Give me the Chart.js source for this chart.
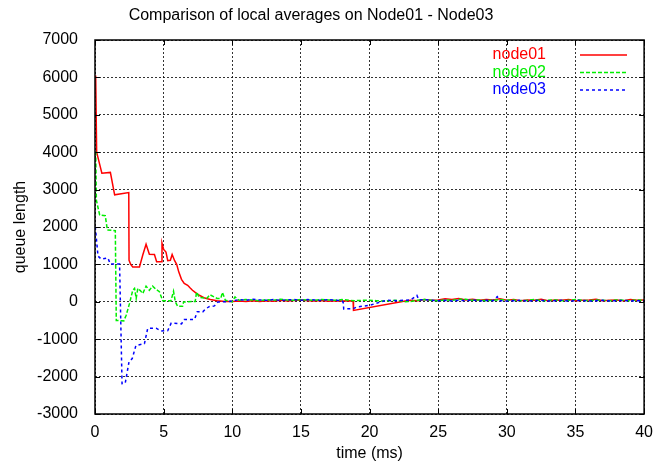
<!DOCTYPE html>
<html>
<head>
<meta charset="utf-8">
<script src="https://cdn.jsdelivr.net/npm/chart.js@4"></script>
<style>
  html, body { margin: 0; padding: 0; background: #fff; }
  canvas { display: block; }
</style>
</head>
<body>
<canvas id="queueChart" width="662" height="464"></canvas>
<script>
// --- Data ---
const chartTitle = 'Comparison of local averages on Node01 - Node03';
const seriesNames = ['node01', 'node02', 'node03'];
const xTitle = 'time (ms)';
const yTitle = 'queue length';

const node01Time = [0.05, 0.12, 0.5, 1.12, 1.43, 2.46, 2.48, 2.6, 2.75, 3.24, 3.48, 3.72, 3.96, 4.33, 4.49, 4.81, 4.88, 5.0,
    5.17, 5.3, 5.49, 5.62, 5.8, 5.95, 6.1, 6.3, 6.5, 6.75, 6.9, 7.1, 7.3, 7.6, 8.0, 8.4, 8.9, 9.5, 10.0,
    10.5, 11, 11.5, 12, 12.5, 13, 13.5, 14, 14.5, 15, 15.5, 16, 16.5, 17, 17.5, 18, 18.5, 18.8, 18.83, 22.6,
    23, 23.5, 24, 24.5, 25, 25.5, 26, 26.5, 27, 27.5, 28, 28.5, 29, 29.5, 30, 30.5, 31, 31.5, 32, 32.5,
    33, 33.5, 34, 34.5, 35, 35.5, 36, 36.5, 37, 37.5, 38, 38.5, 39, 39.5, 40];
const node01Queue = [6050, 4000, 3440, 3460, 2860, 2920, 1110, 1000, 930, 930, 1250, 1540, 1270, 1265, 1070, 1070, 1570, 1400,
    1330, 1100, 1110, 1265, 1100, 1000, 800, 600, 490, 440, 380, 310, 250, 175, 100, 60, 30, 10, 5,
    20, 5, 25, 10, 30, 15, 40, 20, 35, 50, 30, 20, 35, 15, 30, 20, 25, 20, -230, 20,
    40, 30, 60, 40, 50, 80, 60, 90, 50, 70, 40, 60, 50, 80, 40, 60, 30, 50, 40, 70,
    30, 50, 40, 60, 30, 40, 50, 70, 30, 40, 50, 30, 60, 40, 50];

const node02Time = [0.05, 0.1, 0.34, 0.75, 0.9, 1.48, 1.55, 2.1, 2.27, 2.51, 2.75, 2.88, 3.0, 3.12, 3.3, 3.48, 3.72, 3.96,
    4.2, 4.45, 4.69, 4.93, 5.53, 5.72, 5.85, 6.02, 6.38, 6.45, 7.3, 7.4, 7.59, 8.15, 8.36, 8.9, 9.16, 9.28, 9.5, 10.0,
    10.2, 10.5, 11, 11.5, 12, 12.5, 13, 13.5, 14, 14.5, 15, 15.5, 16, 16.5, 17, 17.5, 18, 18.5, 19, 19.5, 20,
    20.5, 21, 21.5, 22, 22.6, 23, 23.5, 24, 24.5, 25, 25.5, 26, 26.5, 27, 27.5, 28, 28.5, 29, 29.5, 30,
    30.5, 31, 31.5, 32, 32.5, 33, 33.5, 34, 34.5, 35, 35.5, 36, 36.5, 37, 37.5, 38, 38.5, 39, 39.5, 40];
const node02Queue = [4020, 2720, 2320, 2300, 1920, 1900, -500, -510, -360, -50, 310, 360, 90, 360, 300, 220, 420, 310,
    420, 330, 270, 30, 25, 280, 0, -120, -120, -5, 10, 260, 120, 90, 190, 90, 90, 250, 40, 0,
    130, 40, 60, 50, 30, 60, 40, 70, 50, 40, 60, 50, 40, 60, 50, 40, 60, 40, 30, 40, 40,
    30, 20, 30, 40, 0, 10, 40, 60, 40, 30, 50, 40, 60, 70, 40, 50, 30, 40, 60, 40,
    50, 30, 40, 60, 30, 40, 50, 30, 40, 60, 40, 30, 50, 40, 30, 50, 40, 30, 50, 40];

const node03Time = [0.02, 0.22, 0.46, 0.94, 1.12, 1.79, 1.97, 2.2, 2.48, 2.71, 2.98, 3.6, 3.84, 4.45, 4.81, 5.3, 5.55,
    6.3, 6.5, 7.25, 7.45, 7.85, 8.05, 8.31, 8.7, 8.95, 9.5, 10.0,
    10.5, 11, 11.5, 12, 12.5, 13, 13.5, 14, 14.5, 15, 15.5, 16, 16.5, 17, 17.5, 18, 18.08, 18.12, 18.8, 19.05, 20, 21.2,
    22, 22.5, 23, 23.45, 23.6, 24, 24.5, 25, 25.5, 26, 26.5, 27, 27.5, 28, 28.5, 29, 29.3, 29.5, 30,
    30.5, 31, 31.5, 32, 32.5, 33, 33.5, 34, 34.5, 35, 35.5, 36, 36.5, 37, 37.5, 38, 38.5, 39, 39.5, 40];
const node03Queue = [2010, 1220, 1140, 1170, 1010, 1010, -2190, -2180, -1600, -1520, -1170, -1120, -710, -705, -780, -770, -570,
    -590, -475, -470, -265, -270, -195, -130, -110, -5, 0, 20,
    60, 40, 70, 50, 40, 60, 40, 50, 60, 40, 60, 50, 40, 60, 40, 30, -20, -190, -185, -140, -95, 40,
    30, 40, 50, 170, 50, 60, 40, 30, 40, 20, 40, 30, 50, 20, 40, 30, 140, 30, 20,
    30, 40, 20, 30, 40, 20, 30, 40, 20, 30, 40, 20, 30, 40, 20, 30, 40, 20, 30, 30];

const xTicks = [0, 5, 10, 15, 20, 25, 30, 35, 40];
const yTicks = [-3000, -2000, -1000, 0, 1000, 2000, 3000, 4000, 5000, 6000, 7000];

const FONT = "'Liberation Sans', Arial, sans-serif";

function toPoints(ts, vs) {
    return ts.map((t, i) => ({ x: t, y: vs[i] }));
}

// --- Frame, inward tick marks, title, key ---
const gnuplotLook = {
    id: 'gnuplotLook',
    afterDatasetsDraw(chart) {
        const { ctx, chartArea: a, scales } = chart;
        ctx.save();
        ctx.strokeStyle = '#000';
        ctx.lineWidth = 1;
        ctx.setLineDash([]);
        ctx.beginPath();
        xTicks.forEach(v => {
            const x = Math.round(scales.x.getPixelForValue(v)) + 0.5;
            ctx.moveTo(x, a.bottom); ctx.lineTo(x, a.bottom - 5);
            ctx.moveTo(x, a.top); ctx.lineTo(x, a.top + 5);
        });
        yTicks.forEach(v => {
            const y = Math.round(scales.y.getPixelForValue(v)) + 0.5;
            ctx.moveTo(a.left, y); ctx.lineTo(a.left + 5, y);
            ctx.moveTo(a.right, y); ctx.lineTo(a.right - 5, y);
        });
        ctx.stroke();
        ctx.lineWidth = 1.5;
        ctx.strokeRect(a.left, a.top, a.right - a.left, a.bottom - a.top);

        // title
        ctx.fillStyle = '#000';
        ctx.font = '16px ' + FONT;
        ctx.textAlign = 'center';
        ctx.textBaseline = 'middle';
        ctx.fillText(chartTitle, 311, 16);

        // key
        ctx.textAlign = 'right';
        chart.data.datasets.forEach((ds, i) => {
            const y = 55 + i * 17.5;
            ctx.fillStyle = ds.borderColor;
            ctx.fillText(ds.label, 546, y);
            ctx.strokeStyle = ds.borderColor;
            ctx.lineWidth = ds.borderWidth;
            ctx.setLineDash(ds.borderDash || []);
            ctx.beginPath();
            ctx.moveTo(580, y); ctx.lineTo(627, y);
            ctx.stroke();
        });
        ctx.restore();
    }
};

const ctx = document.getElementById('queueChart').getContext('2d');
const queueChart = new Chart(ctx, {
    type: 'line',
    data: {
        datasets: [
            { label: seriesNames[0], data: toPoints(node01Time, node01Queue), borderColor: '#ff0000',
              borderWidth: 1.5, order: 3 },
            { label: seriesNames[1], data: toPoints(node02Time, node02Queue), borderColor: '#00ee00',
              borderWidth: 1.5, borderDash: [4, 2], order: 2 },
            { label: seriesNames[2], data: toPoints(node03Time, node03Queue), borderColor: '#0000ff',
              borderWidth: 1.5, borderDash: [3, 3], order: 1 }
        ]
    },
    options: {
        responsive: false,
        animation: false,
        events: [],
        elements: { point: { radius: 0 }, line: { tension: 0, fill: false } },
        layout: { padding: { top: 40, right: 15, left: 0, bottom: 0 } },
        plugins: { legend: { display: false }, title: { display: false }, tooltip: { enabled: false } },
        scales: {
            x: {
                type: 'linear', min: 0, max: 40,
                afterFit(scale) { scale.height = 50; },
                afterBuildTicks(scale) { scale.ticks = xTicks.map(v => ({ value: v })); },
                grid: { color: 'rgba(0,0,0,0.8)', lineWidth: 1, drawTicks: false },
                border: { display: false, dash: [2, 2] },
                ticks: { color: '#000', font: { family: FONT, size: 16 }, padding: 9, maxRotation: 0 },
                title: { display: true, text: xTitle, color: '#000', font: { family: FONT, size: 16 },
                         padding: { top: 0, bottom: 1 } }
            },
            y: {
                type: 'linear', min: -3000, max: 7000,
                afterFit(scale) { scale.width = 95; },
                afterBuildTicks(scale) { scale.ticks = yTicks.map(v => ({ value: v })); },
                grid: { color: 'rgba(0,0,0,0.8)', lineWidth: 1, drawTicks: false },
                border: { display: false, dash: [2, 2] },
                ticks: { color: '#000', font: { family: FONT, size: 16 }, padding: 17,
                         callback: v => String(v) },
                title: { display: true, text: yTitle, color: '#000', font: { family: FONT, size: 16 },
                         padding: { top: 11, bottom: 0 } }
            }
        }
    },
    plugins: [gnuplotLook]
});
</script>
</body>
</html>
